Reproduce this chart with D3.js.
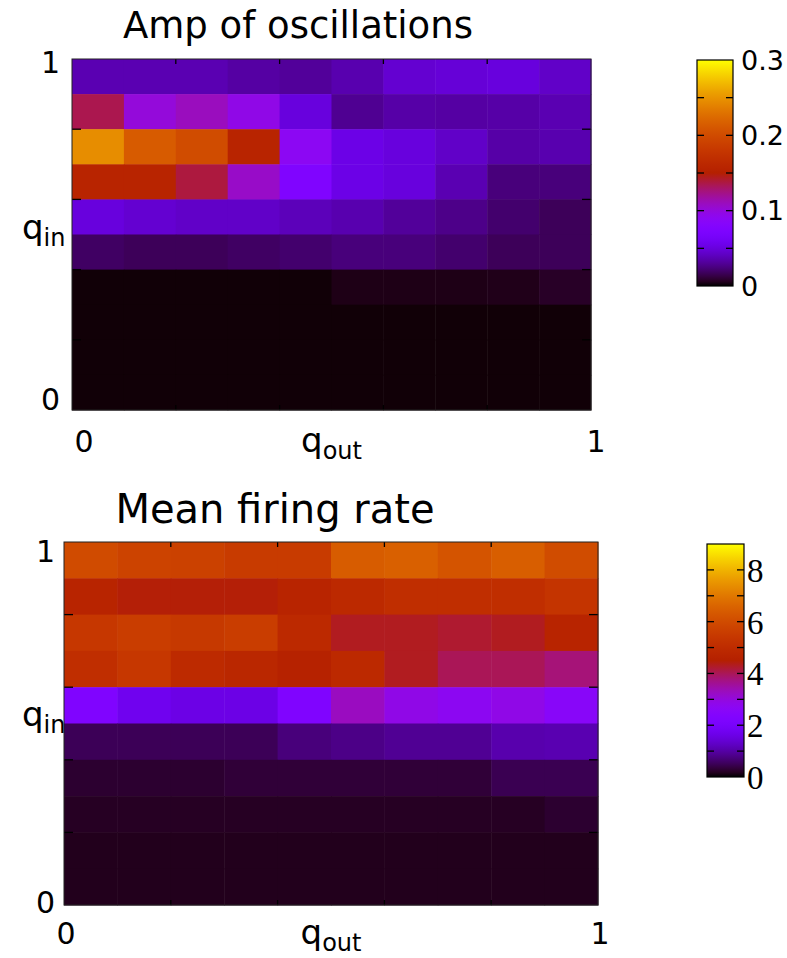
<!DOCTYPE html>
<html>
<head>
<meta charset="utf-8">
<script src="https://cdn.jsdelivr.net/npm/d3@7"></script>
<style>
  body { margin: 0; background: #fff; }
  text { fill: #000; }
</style>
</head>
<body>
<svg width="787" height="958"></svg>
<script>
// q_out bins (columns, left to right) and q_in bins (rows, listed from q_in = 1 at the top down to 0)
var qOutBins = d3.range(10);
var qInBins = d3.range(10);

var ampValues = [
    [0.037, 0.037, 0.037, 0.033, 0.031, 0.036, 0.046, 0.048, 0.050, 0.043],
    [0.135, 0.101, 0.110, 0.096, 0.050, 0.029, 0.034, 0.033, 0.034, 0.037],
    [0.246, 0.213, 0.200, 0.156, 0.090, 0.054, 0.050, 0.043, 0.034, 0.036],
    [0.156, 0.156, 0.138, 0.107, 0.075, 0.054, 0.050, 0.037, 0.024, 0.024],
    [0.050, 0.046, 0.043, 0.043, 0.039, 0.036, 0.031, 0.027, 0.021, 0.017],
    [0.019, 0.017, 0.017, 0.019, 0.021, 0.024, 0.024, 0.021, 0.017, 0.017],
    [0.0013, 0.0013, 0.0013, 0.0013, 0.0013, 0.0041, 0.0041, 0.0041, 0.0047, 0.0074],
    [0.0014, 0.0014, 0.0014, 0.0014, 0.0014, 0.0014, 0.0014, 0.0014, 0.0014, 0.0014],
    [0.0014, 0.0014, 0.0014, 0.0014, 0.0014, 0.0014, 0.0014, 0.0014, 0.0014, 0.0014],
    [0.0014, 0.0014, 0.0014, 0.0014, 0.0014, 0.0014, 0.0014, 0.0014, 0.0014, 0.0014]
];

var rateValues = [
    [5.99, 5.76, 5.70, 5.54, 5.54, 6.40, 6.50, 6.22, 6.46, 6.00],
    [4.68, 4.46, 4.46, 4.46, 4.68, 4.89, 5.10, 5.10, 5.10, 5.30],
    [5.40, 5.60, 5.45, 5.60, 4.90, 4.32, 4.32, 4.23, 4.32, 4.68],
    [5.10, 5.40, 4.95, 4.80, 4.60, 4.90, 4.32, 4.00, 4.00, 3.80],
    [2.25, 1.74, 1.61, 1.61, 2.25, 3.28, 2.87, 2.71, 2.87, 2.56],
    [0.50, 0.50, 0.50, 0.50, 0.72, 0.80, 0.89, 0.89, 1.07, 1.10],
    [0.27, 0.27, 0.27, 0.32, 0.32, 0.32, 0.32, 0.32, 0.47, 0.47],
    [0.20, 0.20, 0.20, 0.20, 0.20, 0.20, 0.20, 0.20, 0.20, 0.27],
    [0.16, 0.16, 0.16, 0.16, 0.16, 0.16, 0.16, 0.16, 0.16, 0.16],
    [0.16, 0.16, 0.16, 0.16, 0.16, 0.16, 0.16, 0.16, 0.16, 0.16]
];

var axisTicks = [0.2, 0.4, 0.6, 0.8];
var ampDomain = [0, 0.3];
var ampBarTicks = [0.05, 0.1, 0.15, 0.2, 0.25];
var ampBarLabels = [0, 0.1, 0.2, 0.3];
var rateDomain = [0, 9];
var rateBarTicks = [1, 2, 3, 4, 5, 6, 7, 8];
var rateBarLabels = [0, 2, 4, 6, 8];

// gnuplot default pm3d palette (rgbformulae 7,5,15)
function gnuplotColor(t) {
    t = Math.max(0, Math.min(1, t));
    return d3.rgb(255 * Math.sqrt(t), 255 * t * t * t,
                  255 * Math.max(0, Math.sin(2 * Math.PI * t))).formatHex();
}

var svg = d3.select("svg");
var sans = "DejaVu Sans, sans-serif";

function drawPanel(cfg) {
    var g = svg.append("g");

    var x = d3.scaleLinear().domain([0, 1]).range([cfg.x0, cfg.x1]);
    var y = d3.scaleLinear().domain([0, 1]).range([cfg.y1, cfg.y0]);
    var xBand = d3.scaleBand().domain(qOutBins).range([cfg.x0, cfg.x1]);
    var yBand = d3.scaleBand().domain(qInBins).range([cfg.y0, cfg.y1]);
    var color = d3.scaleSequential(gnuplotColor).domain(cfg.domain);

    var cells = [];
    cfg.values.forEach(function(row, i) {
        row.forEach(function(v, j) { cells.push({ r: i, c: j, v: v }); });
    });

    g.selectAll("rect.cell")
        .data(cells)
      .enter().append("rect")
        .attr("class", "cell")
        .attr("x", function(d) { return xBand(d.c); })
        .attr("y", function(d) { return yBand(d.r); })
        .attr("width", xBand.bandwidth() + 0.5)
        .attr("height", yBand.bandwidth() + 0.5)
        .attr("fill", function(d) { return color(d.v); });

    // inward ticks on all four sides
    var tickG = g.append("g").attr("stroke", "#000").attr("stroke-width", 1.3);
    axisTicks.forEach(function(t) {
        tickG.append("line").attr("x1", x(t)).attr("x2", x(t)).attr("y1", cfg.y1).attr("y2", cfg.y1 - 5);
        tickG.append("line").attr("x1", x(t)).attr("x2", x(t)).attr("y1", cfg.y0).attr("y2", cfg.y0 + 5);
        tickG.append("line").attr("y1", y(t)).attr("y2", y(t)).attr("x1", cfg.x0).attr("x2", cfg.x0 + 9);
        tickG.append("line").attr("y1", y(t)).attr("y2", y(t)).attr("x1", cfg.x1).attr("x2", cfg.x1 - 9);
    });

    g.append("rect")
        .attr("x", cfg.x0).attr("y", cfg.y0)
        .attr("width", cfg.x1 - cfg.x0).attr("height", cfg.y1 - cfg.y0)
        .attr("fill", "none").attr("stroke", "#222").attr("stroke-width", 1);

    g.append("text")
        .attr("x", cfg.titleX).attr("y", cfg.titleY)
        .attr("text-anchor", "middle")
        .style("font-family", sans).style("font-size", cfg.titleSize + "px")
        .text(cfg.title);

    // axis end labels
    var lab = g.append("g").style("font-family", sans).style("font-size", "30px");
    lab.append("text").attr("x", cfg.yLabX).attr("y", y(1) + cfg.yTopDy).attr("text-anchor", "end").text("1");
    lab.append("text").attr("x", cfg.yLabX).attr("y", y(0) + cfg.yBotDy).attr("text-anchor", "end").text("0");
    lab.append("text").attr("x", x(0) + cfg.xLeftDx).attr("y", cfg.xLabY).attr("text-anchor", "middle").text("0");
    lab.append("text").attr("x", x(1) + cfg.xRightDx).attr("y", cfg.xLabY).attr("text-anchor", "middle").text("1");

    var qo = lab.append("text").attr("x", x(0.5)).attr("y", cfg.xLabY).attr("text-anchor", "middle");
    qo.append("tspan").style("font-size", "34px").text("q");
    qo.append("tspan").attr("dy", 7).style("font-size", "24px").text("out");

    var qi = lab.append("text").attr("x", 22).attr("y", y(0.5) + cfg.qInDy);
    qi.append("tspan").style("font-size", "34px").text("q");
    qi.append("tspan").attr("dy", 7).style("font-size", "24px").text("in");

    // colour bar
    var cb = d3.scaleLinear().domain(cfg.domain).range([cfg.cbY1, cfg.cbY0]);
    var gradId = "grad-" + cfg.id;
    var grad = svg.append("defs").append("linearGradient")
        .attr("id", gradId).attr("x1", 0).attr("y1", 1).attr("x2", 0).attr("y2", 0);
    grad.selectAll("stop")
        .data(d3.range(0, 1.0001, 0.02))
      .enter().append("stop")
        .attr("offset", function(d) { return d; })
        .attr("stop-color", function(d) { return gnuplotColor(d); });

    g.append("rect")
        .attr("x", cfg.cbX).attr("y", cfg.cbY0)
        .attr("width", cfg.cbW).attr("height", cfg.cbY1 - cfg.cbY0)
        .attr("fill", "url(#" + gradId + ")")
        .attr("stroke", "#000").attr("stroke-width", 1.2);

    var cbTicks = g.append("g").attr("stroke", "#000").attr("stroke-width", 1.3);
    cfg.barTicks.forEach(function(t) {
        cbTicks.append("line").attr("x1", cfg.cbX).attr("x2", cfg.cbX + 7).attr("y1", cb(t)).attr("y2", cb(t));
        cbTicks.append("line").attr("x1", cfg.cbX + cfg.cbW).attr("x2", cfg.cbX + cfg.cbW - 7).attr("y1", cb(t)).attr("y2", cb(t));
    });

    g.append("g")
        .style("font-family", cfg.barFont).style("font-size", cfg.barFontSize + "px")
      .selectAll("text")
        .data(cfg.barLabels)
      .enter().append("text")
        .attr("x", cfg.cbX + cfg.cbW + cfg.barLabDx)
        .attr("y", function(d) { return cb(d); })
        .attr("dy", "0.36em")
        .text(function(d) { return d; });
}

drawPanel({
    id: "amp", values: ampValues, domain: ampDomain,
    x0: 72, x1: 591, y0: 59, y1: 410,
    title: "Amp of oscillations", titleX: 298, titleY: 38, titleSize: 37,
    yLabX: 60, yTopDy: 14, yBotDy: 0, xLeftDx: 12, xRightDx: 5, xLabY: 452, qInDy: 4,
    cbX: 697, cbW: 36, cbY0: 60, cbY1: 286,
    barTicks: ampBarTicks, barLabels: ampBarLabels,
    barFont: sans, barFontSize: 27, barLabDx: 8
});

drawPanel({
    id: "rate", values: rateValues, domain: rateDomain,
    x0: 64, x1: 598, y0: 542, y1: 905,
    title: "Mean firing rate", titleX: 275, titleY: 523, titleSize: 40,
    yLabX: 55, yTopDy: 20, yBotDy: 8, xLeftDx: 2, xRightDx: 2, xLabY: 944, qInDy: 2,
    cbX: 707, cbW: 37, cbY0: 544, cbY1: 777,
    barTicks: rateBarTicks, barLabels: rateBarLabels,
    barFont: "Liberation Serif, serif", barFontSize: 33, barLabDx: 3
});
</script>
</body>
</html>
